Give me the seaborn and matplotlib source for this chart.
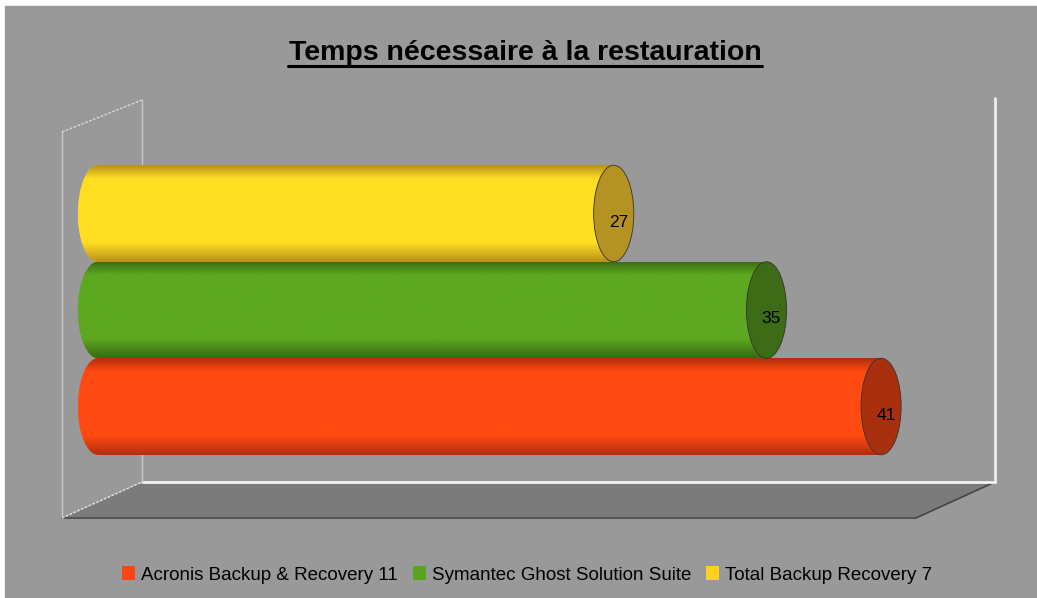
import numpy as np
import pandas as pd
import seaborn as sns
import matplotlib.pyplot as plt
from matplotlib.patches import Ellipse, Polygon, Rectangle
from matplotlib.colors import LinearSegmentedColormap
from matplotlib.lines import Line2D

# Data
products = ["Acronis Backup & Recovery 11", "Symantec Ghost Solution Suite", "Total Backup Recovery 7"]
restore_time = [41, 35, 27]

# bar colours: (light, dark edge, end cap)
light_colors = ["#FF4A12", "#5CA820", "#FFDE22"]
dark_colors = ["#B22E0E", "#3A6812", "#B8901A"]
cap_colors = ["#A8300F", "#3E6C16", "#B59322"]

W, H = 1037, 598
df = pd.DataFrame({"Produit": products, "Temps": restore_time})
order = products[::-1]  # top to bottom

sns.set_style("white")
plt.rcParams["font.family"] = ["Liberation Sans", "DejaVu Sans"]

fig = plt.figure(figsize=(W / 100, H / 100), dpi=100)
fig.patch.set_facecolor("white")
fig.add_artist(Rectangle((5 / W, 0), 1, (H - 6) / H, transform=fig.transFigure,
                         color="#999999", zorder=0))
ax = fig.add_axes([0, 0, 1, 1])
ax.patch.set_visible(False)
ax.set_axis_off()


def px(x, y):
    return (x / W, 1 - y / H)


# 3D frame: back wall, side wall and floor (pixel positions)
ax.add_patch(Polygon([px(62, 518), px(916, 518), px(995, 482), px(142, 482)],
                     closed=True, transform=ax.transAxes, facecolor="#7b7b7b",
                     edgecolor="none", zorder=1))
frame = dict(transform=ax.transAxes, zorder=1.5)
ax.add_line(Line2D(*zip(px(62, 518), px(916, 518)), color="#555555", lw=1.5, **frame))
ax.add_line(Line2D(*zip(px(916, 518), px(995, 482)), color="#444444", lw=1.2, **frame))
ax.add_line(Line2D(*zip(px(62, 518), px(142, 482)), color="#e6e6e6", lw=1, ls=(0, (2, 1)), **frame))
ax.add_line(Line2D(*zip(px(142, 482), px(995, 482)), color="#f2f2f2", lw=2, **frame))
ax.add_line(Line2D(*zip(px(995, 98), px(995, 482)), color="#eeeeee", lw=2, **frame))
ax.add_line(Line2D(*zip(px(142, 100), px(142, 482)), color="#c8c8c8", lw=1, **frame))
ax.add_line(Line2D(*zip(px(62, 132), px(62, 518)), color="#c8c8c8", lw=1, **frame))
ax.add_line(Line2D(*zip(px(62, 132), px(142, 100)), color="#d8d8d8", lw=1, ls=(0, (2, 1)), **frame))

# bars through seaborn
n_before = len(ax.patches)
sns.barplot(data=df, x="Temps", y="Produit", hue="Produit", order=order,
            hue_order=products, palette=light_colors, saturation=1, width=1.0,
            orient="h", legend=False, ax=ax, zorder=3, edgecolor="none")
bars = [p for p in ax.patches[n_before:] if p.get_height() > 0 and p.get_width() > 0]

# cylinder shading: gradient clipped to body, end caps as ellipses
grad = np.linspace(0, 1, 256).reshape(-1, 1)
rx = 1.05
for p in bars:
    yc = p.get_y() + p.get_height() / 2
    h = p.get_height()
    val = p.get_x() + p.get_width()
    idx = products.index(order[int(round(yc))])
    cmap = LinearSegmentedColormap.from_list(
        "c", [(0, dark_colors[idx]), (0.14, light_colors[idx]),
              (0.8, light_colors[idx]), (1, dark_colors[idx])])
    left = Ellipse((0, yc), 2 * rx, h, facecolor=light_colors[idx],
                   edgecolor="none", zorder=3)
    ax.add_patch(left)
    for clip in (p, left):
        im = ax.imshow(grad, extent=(-rx, val, yc - h / 2, yc + h / 2),
                       origin="lower", aspect="auto", cmap=cmap, zorder=3.5,
                       interpolation="bilinear")
        im.set_clip_path(clip)
    ax.add_patch(Ellipse((val, yc), 2 * rx, h, facecolor=cap_colors[idx],
                         edgecolor="#333333", lw=0.6, zorder=4))
    ax.text(val + 0.25, yc + 0.09, f"{restore_time[idx]}", ha="center",
            va="center", fontsize=12.5, color="black", zorder=5)

# axis mapping: zero at x=98px, 19.1 px per unit; rows 96.5 px apart
ax.set_xlim(-98 / 19.1, (W - 98) / 19.1)
ax.set_ylim((H - 213.5) / 96.5, -213.5 / 96.5)

# title
fig.text(525 / W, 1 - 53 / H, "Temps nécessaire à la restauration",
         ha="center", va="center", fontsize=20.5, fontweight="bold",
         color="black")
ax.add_line(Line2D(*zip(px(288, 66), px(762, 66)), color="black", lw=2.2,
                   transform=ax.transAxes, zorder=6))

# legend
handles = [Rectangle((0, 0), 1, 1, facecolor=c, edgecolor="none")
           for c in ["#FF4512", "#5AA51E", "#FFD21E"]]
leg = fig.legend(handles, products, loc="center", bbox_to_anchor=(527 / W, 1 - 575 / H),
                 ncol=3, frameon=False, fontsize=13.5, handlelength=0.7,
                 handleheight=0.7, handletextpad=0.3, columnspacing=0.8)
for t in leg.get_texts():
    t.set_color("black")

fig.savefig("out.png", dpi=100, facecolor=fig.get_facecolor())
